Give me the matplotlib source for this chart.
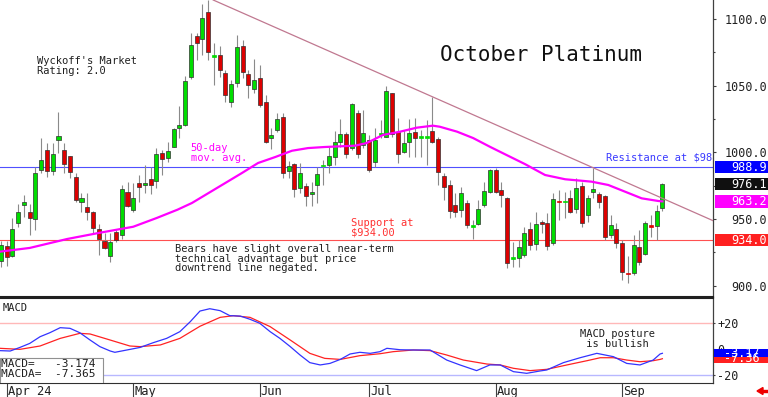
import matplotlib
matplotlib.use("Agg")
import matplotlib.pyplot as plt
import matplotlib.transforms as mtrans
from matplotlib.patches import Rectangle
import numpy as np

plt.rcParams['font.family'] = ['DejaVu Sans Mono', 'DejaVu Sans']

# daily candles, Mar 28 2024 .. Sep 12 2024 (October platinum)
opens = [918.75, 929.75, 922.25, 946.75, 960.25, 955.0, 949.75, 986.5, 1001.75, 986.25,
         1009.25, 1001.75, 997.25, 981.25, 962.75, 959.25, 955.25, 942.25, 933.75, 922.25,
         940.0, 937.75, 970.0, 956.75, 977.0, 975.25, 979.75, 978.5, 999.25, 996.0,
         1004.25, 1018.0, 1020.5, 1056.25, 1087.25, 1084.75, 1105.5, 1071.75, 1073.0, 1059.75,
         1038.0, 1051.75, 1080.0, 1058.75, 1047.25, 1055.5, 1038.0, 1010.5, 1016.75, 1026.25,
         986.25, 991.0, 973.0, 974.75, 968.5, 975.5, 989.75, 990.5, 996.75, 1008.0,
         1013.5, 1003.0, 1029.75, 1005.5, 1009.25, 993.0, 1013.25, 1011.75, 1044.25, 1015.5,
         1000.5, 1008.0, 1015.5, 1011.0, 1011.0, 1016.0, 1009.75, 982.25, 975.5, 960.5,
         956.75, 961.75, 944.25, 946.25, 960.5, 970.5, 986.75, 971.75, 965.5, 920.25,
         920.5, 923.0, 942.25, 931.25, 948.0, 946.75, 931.75, 963.25, 962.75, 965.5,
         957.25, 975.0, 953.0, 970.5, 968.5, 967.25, 938.0, 942.25, 931.75, 909.5,
         909.75, 928.75, 923.75, 945.25, 944.75, 958.25]
highs = [933.75, 933.75, 950.5, 961.25, 968.0, 961.25, 989.25, 1010.5, 1006.75, 1006.75,
         1030.5, 1006.75, 997.25, 984.25, 969.75, 969.75, 956.25, 946.25, 939.75, 939.25,
         941.75, 975.5, 978.0, 976.75, 983.0, 990.5, 989.25, 1003.0, 1001.75, 1008.0,
         1018.5, 1034.75, 1057.25, 1089.25, 1089.25, 1111.0, 1114.5, 1082.25, 1079.75, 1061.75,
         1054.25, 1088.0, 1084.25, 1061.75, 1069.75, 1065.5, 1043.0, 1018.0, 1029.25, 1029.25,
         993.75, 991.75, 991.75, 976.75, 978.0, 988.75, 994.25, 1004.25, 1016.25, 1024.75,
         1015.5, 1037.25, 1031.75, 1031.75, 1013.0, 1018.0, 1024.25, 1049.75, 1044.75, 1025.5,
         1016.75, 1024.75, 1025.5, 1016.75, 1024.25, 1041.75, 1011.75, 984.25, 979.25, 969.25,
         974.25, 964.25, 949.25, 964.25, 978.0, 987.25, 988.0, 978.0, 966.75, 933.0,
         934.25, 944.25, 948.0, 955.5, 949.25, 954.25, 969.75, 971.75, 970.5, 971.75,
         980.5, 978.0, 968.0, 988.0, 970.5, 968.0, 953.0, 946.75, 934.25, 922.25,
         938.0, 941.75, 948.75, 953.0, 960.5, 977.25]
lows = [914.25, 914.75, 921.75, 944.25, 951.75, 938.0, 941.75, 984.25, 981.75, 983.0,
        999.25, 984.25, 980.5, 963.0, 955.25, 949.25, 939.25, 923.0, 927.25, 918.0,
        933.0, 935.25, 959.25, 955.5, 963.0, 969.25, 968.5, 973.0, 983.0, 993.0,
        1003.75, 1011.0, 1019.75, 1055.25, 1069.25, 1073.0, 1069.25, 1050.5, 1056.75, 1038.0,
        1034.25, 1048.75, 1055.5, 1040.5, 1044.75, 1034.25, 1006.75, 1002.25, 1015.5, 980.5,
        980.5, 966.75, 969.25, 959.75, 960.0, 961.75, 975.5, 984.75, 990.5, 1004.25,
        995.5, 1001.75, 995.5, 1003.0, 985.5, 989.25, 1010.5, 1011.25, 1011.75, 991.75,
        999.25, 996.75, 996.75, 996.75, 990.5, 1006.75, 975.5, 964.25, 950.5, 951.75,
        951.75, 943.0, 934.75, 945.5, 959.25, 969.25, 969.25, 959.25, 913.0, 914.25,
        914.25, 921.75, 926.75, 926.75, 939.25, 926.75, 930.5, 949.25, 950.5, 954.25,
        954.25, 944.25, 948.0, 965.5, 958.0, 934.25, 935.5, 928.0, 904.25, 901.75,
        908.0, 915.5, 923.0, 936.75, 934.25, 956.25]
closes = [930.5, 921.25, 942.75, 955.0, 962.75, 951.0, 984.25, 994.0, 986.25, 998.5,
          1012.25, 991.0, 985.5, 964.25, 965.5, 955.25, 943.0, 935.25, 928.5, 933.0,
          934.25, 972.25, 960.0, 966.0, 974.25, 977.0, 975.75, 998.75, 995.25, 1001.25,
          1017.5, 1020.5, 1053.5, 1080.5, 1081.75, 1100.5, 1075.0, 1072.5, 1061.75, 1043.0,
          1051.0, 1079.25, 1060.5, 1050.5, 1054.25, 1035.5, 1008.0, 1013.0, 1025.0, 984.25,
          990.0, 972.25, 984.75, 967.25, 970.5, 983.75, 990.5, 997.25, 1008.0, 1013.5,
          998.75, 1036.0, 998.75, 1014.25, 986.75, 1009.25, 1013.75, 1046.25, 1013.75, 998.75,
          1006.75, 1014.25, 1010.5, 1011.5, 1011.5, 1008.0, 985.5, 973.75, 956.25, 955.5,
          969.25, 945.5, 944.75, 957.25, 971.0, 986.75, 970.5, 968.0, 916.75, 920.75,
          929.25, 939.75, 930.5, 946.0, 946.0, 929.75, 965.0, 962.75, 963.25, 955.5,
          973.0, 946.75, 965.5, 972.5, 963.0, 936.75, 945.5, 931.75, 910.5, 908.75,
          930.5, 918.0, 947.25, 944.25, 956.25, 976.1]

# 50-day moving average, read at a set of day positions
ma_idx = [-0.2, 5.0, 11.5, 17.2, 23.0, 27.1, 30.7, 33.2, 36.1, 39.0, 41.9, 44.7, 47.7,
          50.6, 53.4, 56.3, 61.6, 63.6, 66.4, 69.4, 72.3, 75.1, 76.3, 79.3, 82.1, 85.0,
          87.9, 91.1, 94.6, 98.1, 102.7, 105.6, 108.5, 111.4, 114.3, 115]
ma_val = [925.5, 928.3, 935.0, 939.7, 944.2, 950.8, 957.0, 962.0, 969.5, 977.0, 984.5,
          992.0, 996.5, 1001.2, 1003.2, 1004.0, 1005.0, 1007.0, 1013.0, 1015.5, 1018.5,
          1020.0, 1019.2, 1015.5, 1010.7, 1004.2, 998.0, 991.2, 983.0, 979.8, 978.0,
          975.5, 970.5, 965.5, 963.5, 963.2]

# downtrend line (two anchor points)
trend_idx = [36.9, 124.2]
trend_val = [1114.25, 948.0]

resistance = 988.9
support = 934.0
last_close = 976.1
last_ma = 963.2

# MACD panel
macd_idx = [-0.2, 1.6, 3.3, 5.0, 6.8, 8.5, 10.3, 12.0, 13.7, 15.5, 17.2, 19.0, 19.8, 21.9,
            24.2, 26.5, 28.8, 31.1, 32.9, 34.6, 36.3, 38.1, 39.8, 41.6, 43.3, 45.0, 46.8,
            48.5, 50.3, 52.0, 53.7, 55.5, 57.2, 59.0, 60.7, 62.4, 64.2, 65.9, 67.1, 69.4,
            71.7, 74.6, 77.5, 79.8, 82.7, 85.0, 86.8, 89.1, 91.4, 93.7, 94.9, 97.8, 100.7,
            103.6, 106.5, 108.8, 111.1, 113.4, 114.6, 115]
macd_val = [-1.1, -1.4, 1.4, 4.5, 9.7, 12.8, 16.7, 16.2, 12.8, 7.1, 2.0, -1.4, -2.4, -0.6,
            1.4, 5.1, 8.4, 13.6, 21.3, 29.6, 31.4, 29.9, 26.0, 25.7, 23.2, 20.1, 13.6, 8.4,
            2.0, -4.5, -10.4, -12.2, -11.0, -7.9, -3.7, -2.4, -3.2, -1.9, 0.7, -0.4, -0.6,
            -0.6, -8.4, -12.2, -16.6, -12.2, -12.2, -17.4, -18.7, -16.9, -16.1, -10.4, -6.6,
            -3.2, -5.8, -11.0, -12.2, -8.4, -3.7, -3.17]
sig_idx = [-0.2, 3.3, 6.8, 10.3, 13.7, 15.5, 19.0, 22.4, 24.2, 27.7, 31.1, 34.6, 38.1, 40.4,
           43.3, 46.8, 50.3, 53.7, 56.3, 59.0, 62.4, 65.9, 68.2, 71.7, 74.6, 77.5, 80.4,
           84.5, 86.8, 89.1, 92.0, 94.9, 98.4, 101.9, 104.2, 106.5, 108.8, 111.1, 113.4,
           114.6, 115]
sig_val = [0.7, -0.1, 2.5, 8.4, 12.3, 11.8, 7.1, 2.5, 2.0, 3.3, 8.4, 17.8, 24.7, 26.0, 24.7,
           17.5, 7.1, -3.2, -7.1, -7.9, -5.0, -3.5, -1.9, -0.6, -1.1, -4.5, -8.4, -11.5,
           -12.2, -14.8, -16.6, -15.6, -12.2, -8.9, -6.6, -6.6, -8.4, -9.7, -8.9, -7.9, -7.37]
macd_last = -3.174
macda_last = -7.365

month_pos = [1, 23, 45, 64, 86, 108]
month_labels = ["Apr 24", "May", "Jun", "Jul", "Aug", "Sep"]
price_ticks = [900, 950, 1000, 1050, 1100]
price_labels = ["900.0", "950.0", "1000.0", "1050.0", "1100.0"]
macd_ticks = [-20, 0, 20]
macd_labels = ["-20", "0", "+20"]

W, H = 768, 397


def box(x0, y0, x1, y1):
    return [x0 / W, 1 - y1 / H, (x1 - x0) / W, (y1 - y0) / H]


fig = plt.figure(figsize=(W / 100, H / 100), dpi=100)
ax = fig.add_axes(box(0, 0, 713, 297))
mx = fig.add_axes(box(0, 297.5, 713, 383))

GREEN = '#00dd00'
RED = '#dd0000'

# ---- price panel
o = np.array(opens); h = np.array(highs); l = np.array(lows); c = np.array(closes)
x = np.arange(len(c))
up = c >= o
cols = np.where(up, GREEN, RED)
doji = np.abs(c - o) < 1.5
edges = np.where(doji, cols, '#303030')
ax.vlines(x, l, h, color='#8a8a8a', lw=0.8, zorder=2)
ax.bar(x, np.maximum(np.abs(c - o), 1.0), bottom=np.minimum(o, c), width=0.7,
       color=cols, edgecolor=edges, linewidth=0.5, zorder=3)

ax.axhline(resistance, color='#5050ff', lw=0.8, zorder=1)
ax.axhline(support, color='#ff5050', lw=0.8, zorder=1)
ax.plot(ma_idx, ma_val, color='#ff00ff', lw=1.6, zorder=4)
ax.plot(trend_idx, trend_val, color='#c07890', lw=0.9, zorder=4)

ax.set_xlim(-0.17, 123.8)
ax.set_ylim(891.5, 1114.25)
ax.set_xticks([])
ax.yaxis.tick_right()
ax.set_yticks(price_ticks, labels=price_labels)
ax.set_yticks([925, 975, 1025, 1075], minor=True)
ax.tick_params(axis='y', which='major', direction='out', length=2.2, width=0.8,
               pad=36.7, labelsize=8.5, labelcolor='#202020', color='#404040')
ax.tick_params(axis='y', which='minor', direction='out', length=1.5, width=0.8, color='#404040')
plt.setp(ax.get_yticklabels(), ha='right')
for s in ['left', 'top']:
    ax.spines[s].set_visible(False)
ax.spines['right'].set_color('#404040')
ax.spines['right'].set_linewidth(0.9)
ax.spines['bottom'].set_color('#202020')
ax.spines['bottom'].set_linewidth(1.5)

tr = mtrans.blended_transform_factory(fig.transFigure, ax.transData)
for val, txt, col in [(support, '934.0', '#ff2020'), (last_ma, '963.2', '#ff00ff'),
                      (last_close, '976.1', '#101010'), (resistance, '988.9', '#0000ff')]:
    ax.add_patch(Rectangle((715 / W, val - 4.6), 53 / W, 9.2, transform=tr, facecolor=col,
                           edgecolor='none', clip_on=False, zorder=5))
    ax.text(767 / W, val, txt, transform=tr, ha='right', va='center', color='white',
            fontsize=8.5, clip_on=False, zorder=6)

ax.text(6.3, 1072.5, "Wyckoff's Market\nRating: 2.0", fontsize=7.5, va='top',
        color='#202020', linespacing=1.0)
ax.text(76.4, 1080.5, "October Platinum", fontsize=15, va='top', color='#101010')
ax.text(33.0, 1007.0, "50-day\nmov. avg.", fontsize=7.5, va='top', color='#ff00ff',
        linespacing=1.0)
ax.text(60.9, 951.0, "Support at\n$934.00", fontsize=7.5, va='top', color='#ff3030',
        linespacing=1.0)
ax.text(30.3, 931.5, "Bears have slight overall near-term\ntechnical advantage but price\n"
        "downtrend line negated.", fontsize=7.5, va='top', color='#202020', linespacing=0.98)
ax.text(105.2, 996.5, "Resistance at $988.90", fontsize=7.5, va='center', color='#3a3aff',
        clip_on=True)

# ---- MACD panel
mx.axhline(20, color='#ffb8b8', lw=1)
mx.axhline(-20, color='#b8b8ff', lw=1)
mx.plot(sig_idx, sig_val, color='#ff2222', lw=0.9, zorder=3)
mx.plot(macd_idx, macd_val, color='#3333ff', lw=0.9, zorder=4)
mx.set_xlim(-0.17, 123.8)
mx.set_ylim(-26.2, 40.1)
mx.yaxis.tick_right()
mx.set_yticks(macd_ticks, labels=macd_labels)
mx.tick_params(axis='y', direction='out', length=1.5, width=0.8, pad=1.5, labelsize=8.5,
               labelcolor='#202020', color='#404040')
mx.set_xticks(month_pos)
mx.tick_params(axis='x', direction='out', length=10, width=0.8, color='#404040',
               labelbottom=False)
mx.spines['left'].set_visible(False)
mx.spines['top'].set_linewidth(1.5)
mx.spines['top'].set_color('#202020')
mx.spines['bottom'].set_color('#303030')
mx.spines['right'].set_color('#404040')
mx.spines['right'].set_linewidth(0.9)

trx = mtrans.blended_transform_factory(mx.transData, mx.transAxes)
for pos, lab in zip(month_pos, month_labels):
    mx.text(pos + 0.15, -0.025, lab, transform=trx, ha='left', va='top', fontsize=8.7,
            color='#202020', clip_on=False)

trm = mtrans.blended_transform_factory(fig.transFigure, mx.transData)
for val, txt, col in [(macda_last, '-7.36', '#ff2020'), (macd_last, '-3.17', '#0000ff')]:
    mx.add_patch(Rectangle((714 / W, val - 3.2), 54 / W, 6.4, transform=trm, facecolor=col,
                           edgecolor='none', clip_on=False, zorder=5))
    mx.text(742 / W, val, txt, transform=trm, ha='center', va='center', color='white',
            fontsize=8.5, clip_on=False, zorder=6)

mx.text(0.003, 0.93, "MACD", transform=mx.transAxes, fontsize=7.5, va='top', color='#202020')
mx.add_patch(Rectangle((0, 0), 103 / 713, 25 / 85.5, transform=mx.transAxes,
                       facecolor='white', edgecolor='#909090', lw=0.8, zorder=5))
mx.text(0.002, 0.275, "MACD=   %.3f\nMACDA=  %.3f" % (macd_last, macda_last),
        transform=mx.transAxes, fontsize=8, va='top', color='#202020', linespacing=1.0,
        zorder=6)
mx.text(100.7, 15.4, "MACD posture\n is bullish", fontsize=7.5, va='top', color='#202020',
        linespacing=1.0)

fig.patches.append(plt.Polygon([[757 / W, 6 / H], [763 / W, 9.5 / H], [763 / W, 2.5 / H]],
                               closed=True, color='#ee0000', transform=fig.transFigure))
fig.patches.append(Rectangle((762 / W, 4.8 / H), 6 / W, 2.4 / H, color='#ee0000',
                             transform=fig.transFigure))

fig.savefig("out.png", dpi=100)
